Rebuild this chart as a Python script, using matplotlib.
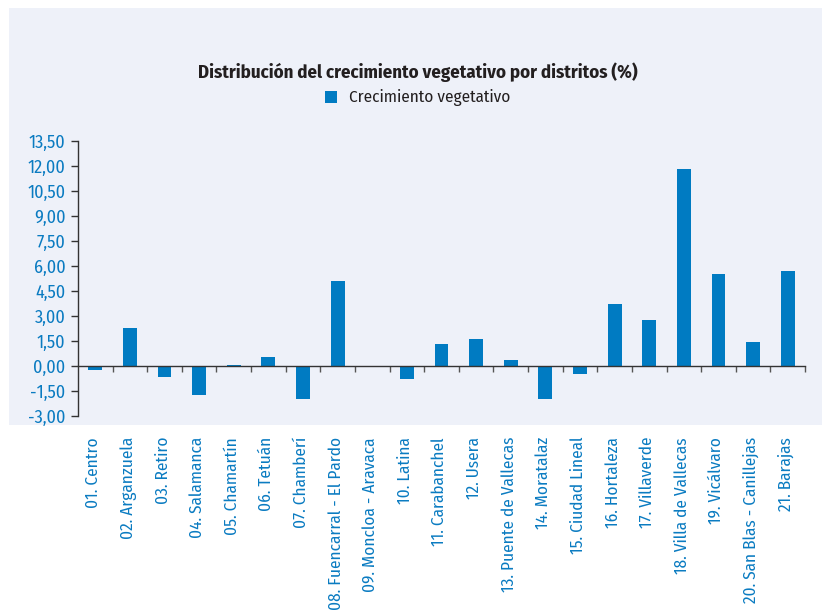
import matplotlib
matplotlib.use("Agg")
import matplotlib.pyplot as plt
from matplotlib.patches import Rectangle
from matplotlib.transforms import blended_transform_factory
import numpy as np

distritos = [
    "01. Centro", "02. Arganzuela", "03. Retiro", "04. Salamanca", "05. Chamartín",
    "06. Tetuán", "07. Chamberí", "08. Fuencarral - El Pardo", "09. Moncloa - Aravaca",
    "10. Latina", "11. Carabanchel", "12. Usera", "13. Puente de Vallecas",
    "14. Moratalaz", "15. Ciudad Lineal", "16. Hortaleza", "17. Villaverde",
    "18. Villa de Vallecas", "19. Vicálvaro", "20. San Blas - Canillejas", "21. Barajas",
]
crecimiento = [
    -0.26, 2.30, -0.64, -1.72, 0.08, 0.56, -1.96, 5.11, 0.00, -0.76,
    1.34, 1.64, 0.38, -1.96, -0.46, 3.73, 2.78, 11.82, 5.53, 1.46, 5.71,
]
yticks = [-3.0, -1.5, 0.0, 1.5, 3.0, 4.5, 6.0, 7.5, 9.0, 10.5, 12.0, 13.5]
ytick_labels = ["-3,00", "-1,50", "0,00", "1,50", "3,00", "4,50", "6,00",
                "7,50", "9,00", "10,50", "12,00", "13,50"]
titulo = "Distribución del crecimiento vegetativo por distritos (%)"
serie = "Crecimiento vegetativo"

FONT = ["Fira Sans Condensed", "DejaVu Sans"]
plt.rcParams["font.family"] = FONT

BLUE = "#007BC2"
TXT_BLUE = "#0A7BC1"
DARK = "#231F20"
PANEL = "#EEF1F9"

W, H = 822, 610
fig = plt.figure(figsize=(W / 100, H / 100), dpi=100)
fig.patch.set_facecolor("white")

# background panel
fig.patches.append(Rectangle((9 / W, 1 - 425 / H), 1 - 9 / W, (425 - 8) / H,
                             transform=fig.transFigure, facecolor=PANEL,
                             edgecolor="none", zorder=-5))

ax = fig.add_axes([78 / W, 1 - 416 / H, (805 - 78) / W, (416 - 141) / H])
ax.set_facecolor("none")
ax.set_zorder(2)

x = np.arange(len(distritos))
ax.bar(x, crecimiento, width=0.4, color=BLUE, zorder=2)

ax.set_xlim(-0.5, len(distritos) - 0.5)
ax.set_ylim(-3.0, 13.5)

for s in ("top", "right"):
    ax.spines[s].set_visible(False)
ax.spines["bottom"].set_position(("data", 0))
ax.spines["bottom"].set_color("#333333")
ax.spines["left"].set_color("#333333")
ax.spines["bottom"].set_linewidth(1.0)
ax.spines["left"].set_linewidth(1.0)
ax.spines["bottom"].set_zorder(3)

ax.set_yticks(yticks)
ax.set_yticklabels(ytick_labels)
ax.tick_params(axis="y", direction="out", length=5, width=1, color="#333333",
               labelcolor=TXT_BLUE, labelsize=13, pad=4)

ax.set_xticks(np.arange(0.5, len(distritos), 1.0))
ax.set_xticklabels([])
ax.tick_params(axis="x", direction="out", length=4, width=1, color="#555555")

trans = blended_transform_factory(ax.transData, fig.transFigure)
for xi, name in zip(x, distritos):
    ax.text(xi - 0.05, 1 - 437 / H, name, transform=trans, rotation=90,
            ha="center", va="top", color=TXT_BLUE, fontsize=12.4)

fig.text(418 / W, 1 - 72 / H, titulo, ha="center", va="center",
         fontsize=13.5, fontweight="bold", color=DARK)
fig.patches.append(Rectangle((325 / W, 1 - 103 / H), 12 / W, 12 / H,
                             transform=fig.transFigure, facecolor=BLUE,
                             edgecolor="none", zorder=1))
fig.text(349 / W, 1 - 97 / H, serie, ha="left", va="center",
         fontsize=12.3, color=DARK)

fig.savefig("out.png", dpi=100)
